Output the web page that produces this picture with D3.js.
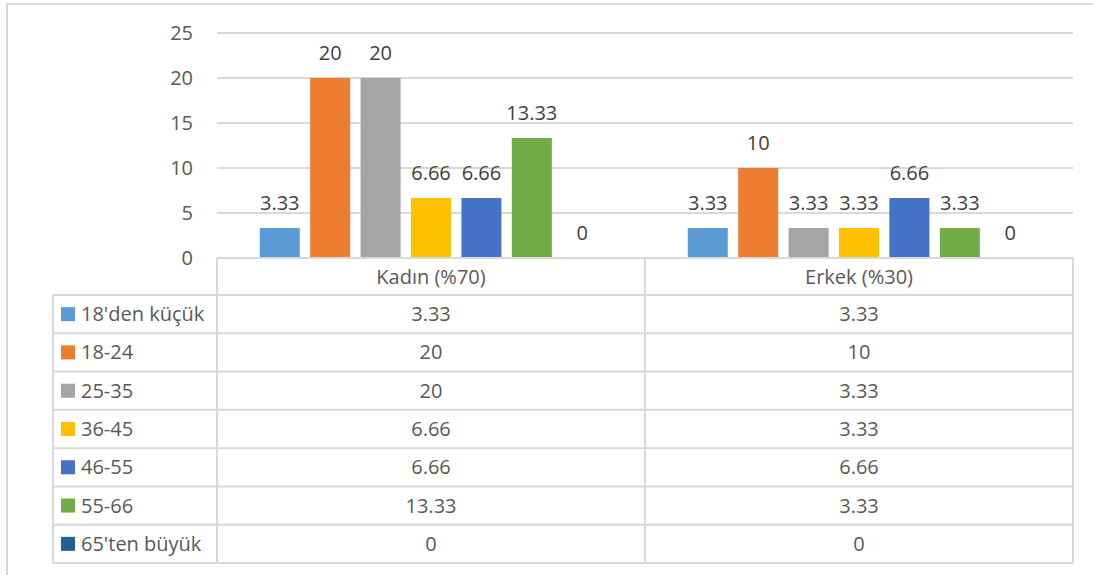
<!DOCTYPE html>
<html>
<head>
<meta charset="utf-8">
<script src="https://cdn.jsdelivr.net/npm/d3@7.9.0/dist/d3.min.js"></script>
<style>
  body { margin: 0; background: #fff; }
  svg { display: block; font-family: "Open Sans", sans-serif; }
</style>
</head>
<body>
<svg id="chart" width="1093" height="575"></svg>
<script>
const groups = ["Kadın (%70)", "Erkek (%30)"];
const series = ["18'den küçük", "18-24", "25-35", "36-45", "46-55", "55-66", "65'ten büyük"];
const kadin = [3.33, 20, 20, 6.66, 6.66, 13.33, 0];
const erkek = [3.33, 10, 3.33, 3.33, 6.66, 3.33, 0];
const colors = ["#5B9BD5", "#ED7D31", "#A5A5A5", "#FFC000", "#4472C4", "#70AD47", "#255E91"];
const yTicks = [0, 5, 10, 15, 20, 25];

const values = [kadin, erkek];
const textColor = "#595959";
const gridColor = "#d9d9d9";

const svg = d3.select("#chart");

// outer chart border
svg.append("rect")
  .attr("x", 7).attr("y", 4)
  .attr("width", 1100).attr("height", 600)
  .attr("fill", "none").attr("stroke", gridColor).attr("stroke-width", 2);

const plotLeft = 217, plotRight = 1073, plotTop = 33, base = 258;

const y = d3.scaleLinear().domain([0, 25]).range([base, plotTop]);
const x0 = d3.scaleBand().domain(groups).range([plotLeft, plotRight]);
const x1 = d3.scaleBand().domain(series).range([0, x0.bandwidth()])
  .paddingInner(0.206).paddingOuter(0.848);

// gridlines
svg.append("g").selectAll("line").data(yTicks.filter(d => d > 0)).join("line")
  .attr("x1", plotLeft).attr("x2", plotRight)
  .attr("y1", d => y(d)).attr("y2", d => y(d))
  .attr("stroke", gridColor).attr("stroke-width", 2);

// y axis labels
svg.append("g").selectAll("text").data(yTicks).join("text")
  .attr("x", 193).attr("y", d => y(d))
  .attr("dy", "0.35em")
  .attr("text-anchor", "end")
  .attr("fill", textColor).attr("font-size", 20)
  .text(d => d);

// bars
const gBars = svg.append("g").selectAll("g").data(groups).join("g")
  .attr("transform", d => `translate(${x0(d)},0)`);

gBars.each(function (grp, gi) {
  const g = d3.select(this);
  const vals = values[gi];
  g.selectAll("rect").data(series).join("rect")
    .attr("x", s => x1(s))
    .attr("width", x1.bandwidth())
    .attr("y", (s, i) => y(vals[i]))
    .attr("height", (s, i) => base - y(vals[i]))
    .attr("fill", (s, i) => colors[i]);
  g.selectAll("text").data(series).join("text")
    .attr("x", s => x1(s) + x1.bandwidth() / 2)
    .attr("y", (s, i) => y(vals[i]) - 25)
    .attr("dy", "0.35em")
    .attr("text-anchor", "middle")
    .attr("fill", "#404040").attr("font-size", 20)
    .text((s, i) => vals[i]);
});

// data table
const headerTop = base, headerBottom = 295, tableBottom = 563, tableLeft = 53;
const rowY = d3.scaleBand().domain(series).range([headerBottom, tableBottom]);

const table = svg.append("g")
  .attr("stroke", gridColor).attr("stroke-width", 2);

// horizontal lines
table.append("line")
  .attr("x1", plotLeft).attr("x2", plotRight)
  .attr("y1", headerTop).attr("y2", headerTop);
table.selectAll("line.h").data(series.concat(["end"])).join("line")
  .attr("class", "h")
  .attr("x1", tableLeft).attr("x2", plotRight)
  .attr("y1", d => d === "end" ? tableBottom : rowY(d))
  .attr("y2", d => d === "end" ? tableBottom : rowY(d));

// vertical lines
table.append("line")
  .attr("x1", tableLeft).attr("x2", tableLeft)
  .attr("y1", headerBottom).attr("y2", tableBottom);
table.selectAll("line.v").data(groups.concat(["end"])).join("line")
  .attr("class", "v")
  .attr("x1", d => d === "end" ? plotRight : x0(d))
  .attr("x2", d => d === "end" ? plotRight : x0(d))
  .attr("y1", headerTop).attr("y2", tableBottom);

// header text
svg.append("g").selectAll("text").data(groups).join("text")
  .attr("x", d => x0(d) + x0.bandwidth() / 2)
  .attr("y", (headerTop + headerBottom) / 2)
  .attr("dy", "0.35em")
  .attr("text-anchor", "middle")
  .attr("fill", textColor).attr("font-size", 20)
  .text(d => d);

// row legend keys and names
const rows = svg.append("g").selectAll("g").data(series).join("g")
  .attr("transform", d => `translate(0,${rowY(d) + rowY.bandwidth() / 2})`);

rows.append("rect")
  .attr("x", 61).attr("y", -7)
  .attr("width", 14).attr("height", 14)
  .attr("fill", (d, i) => colors[i]);

rows.append("text")
  .attr("x", 81).attr("dy", "0.35em")
  .attr("fill", textColor).attr("font-size", 20)
  .text(d => d);

rows.each(function (s, i) {
  d3.select(this).selectAll("text.val").data(groups).join("text")
    .attr("class", "val")
    .attr("x", g => x0(g) + x0.bandwidth() / 2)
    .attr("dy", "0.35em")
    .attr("text-anchor", "middle")
    .attr("fill", textColor).attr("font-size", 20)
    .text((g, gi) => values[gi][i]);
});
</script>
</body>
</html>
